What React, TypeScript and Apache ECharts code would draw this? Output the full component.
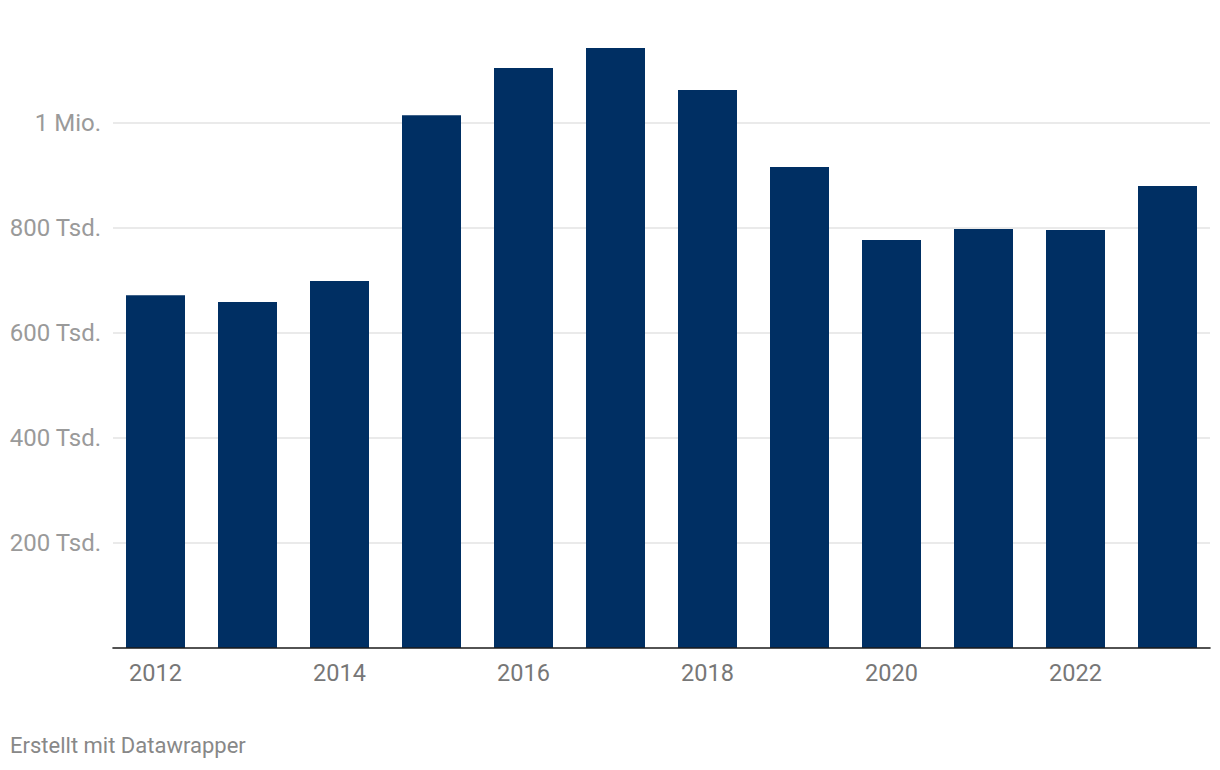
import React, { useEffect, useRef } from "react";
import * as echarts from "echarts";

const years = ["2012", "2013", "2014", "2015", "2016", "2017", "2018", "2019", "2020", "2021", "2022", "2023"];
const values = [672000, 659000, 699000, 1015000, 1105000, 1143000, 1063000, 916000, 777000, 798000, 796000, 880000];
const footer = "Erstellt mit Datawrapper";

const fmtY = (v: number) => {
  if (v === 0 || v > 1000000) return "";
  if (v >= 1000000) return v / 1000000 + " Mio.";
  return v / 1000 + " Tsd.";
};

export default function App() {
  const ref = useRef<HTMLDivElement>(null);
  useEffect(() => {
    const chart = echarts.init(ref.current!, null, { renderer: "svg" });
    const font = "Roboto, 'Noto Sans', sans-serif";
    chart.setOption({
      animation: false,
      backgroundColor: "#ffffff",
      grid: [
        { left: 109.5, right: 6.5, top: 18, bottom: 122 },
        { left: 113, right: 10, top: 18, bottom: 122 },
      ],
      xAxis: [
        {
          type: "category",
          gridIndex: 0,
          data: years,
          axisLine: { show: false },
          axisTick: { show: false },
          axisLabel: { interval: 1, color: "#777777", fontSize: 23.5, fontFamily: font, margin: 13 },
        },
        {
          type: "category",
          gridIndex: 1,
          data: years,
          axisLine: { show: true, lineStyle: { color: "#1a1a1a", width: 1.6 } },
          axisTick: { show: false },
          axisLabel: { show: false },
          z: 10,
        },
      ],
      yAxis: [
        {
          type: "value",
          gridIndex: 0,
          min: 0,
          max: 1200000,
          interval: 200000,
          axisLine: { show: false },
          axisTick: { show: false },
          axisLabel: { show: false },
          splitLine: { show: false },
        },
        {
          type: "value",
          gridIndex: 1,
          min: 0,
          max: 1200000,
          interval: 200000,
          axisLine: { show: false },
          axisTick: { show: false },
          axisLabel: { formatter: fmtY, color: "#9a9a9a", fontSize: 24, fontFamily: font, margin: 12 },
          splitLine: { show: true, showMinLine: false, showMaxLine: false, lineStyle: { color: "#e3e3e3", width: 1.5 } },
        },
      ],
      series: [
        {
          type: "bar",
          xAxisIndex: 0,
          yAxisIndex: 0,
          data: values,
          barWidth: 59,
          itemStyle: { color: "#002f63" },
          z: 5,
        },
      ],
      graphic: [
        {
          type: "text",
          left: 10,
          top: 734,
          style: { text: footer, fill: "#888888", fontSize: 22, fontFamily: font },
        },
      ],
    });
    return () => chart.dispose();
  }, []);
  return <div ref={ref} style={{ position: "fixed", left: 0, top: 0, width: 1220, height: 770 }} />;
}
